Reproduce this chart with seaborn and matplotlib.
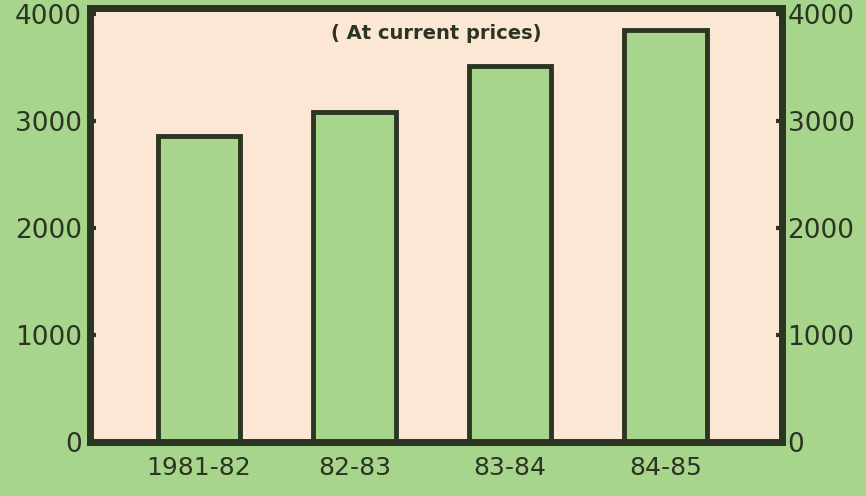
import pandas as pd
import seaborn as sns
from matplotlib import pyplot as plt

years = ['1981-82', '82-83', '83-84', '84-85']
values = [2860, 3080, 3510, 3850]
yticks = [0, 1000, 2000, 3000, 4000]

green = '#a8d58c'
peach = '#fce7d5'
dark = '#2c3424'

df = pd.DataFrame({'Year': years, 'Value': values})

sns.set_style('white')
plt.rcParams['font.family'] = ['DejaVu Sans']

fig = plt.figure(figsize=(8.66, 4.96), dpi=100, facecolor=green)
ax = fig.add_axes([0.104, 0.109, 0.799, 0.875])
ax.set_facecolor(peach)

sns.barplot(data=df, x='Year', y='Value', color=green, width=0.53,
            edgecolor=dark, linewidth=3.5, saturation=1, ax=ax)

ax.set_xlim(-0.70, 3.75)
ax.set_ylim(0, 4056)
ax.set_yticks(yticks)
ax.set_xlabel('')
ax.set_ylabel('')
for s in ax.spines.values():
    s.set_color(dark)
    s.set_linewidth(5)
ax.tick_params(axis='y', direction='in', length=4, width=3, color=dark,
               labelsize=19, labelcolor=dark, pad=6)
ax.tick_params(axis='x', length=0, labelsize=18, labelcolor=dark, pad=10)

ax2 = ax.twinx()
ax2.set_ylim(ax.get_ylim())
ax2.set_yticks(yticks)
ax2.tick_params(axis='y', direction='in', length=4, width=3, color=dark,
                labelsize=19, labelcolor=dark, pad=4)
for s in ax2.spines.values():
    s.set_visible(False)

ax.text(0.5, 0.94, '( At current prices)', transform=ax.transAxes,
        ha='center', va='center', fontsize=14, fontweight='bold', color=dark)

fig.savefig('out.png', dpi=100, facecolor=green)
